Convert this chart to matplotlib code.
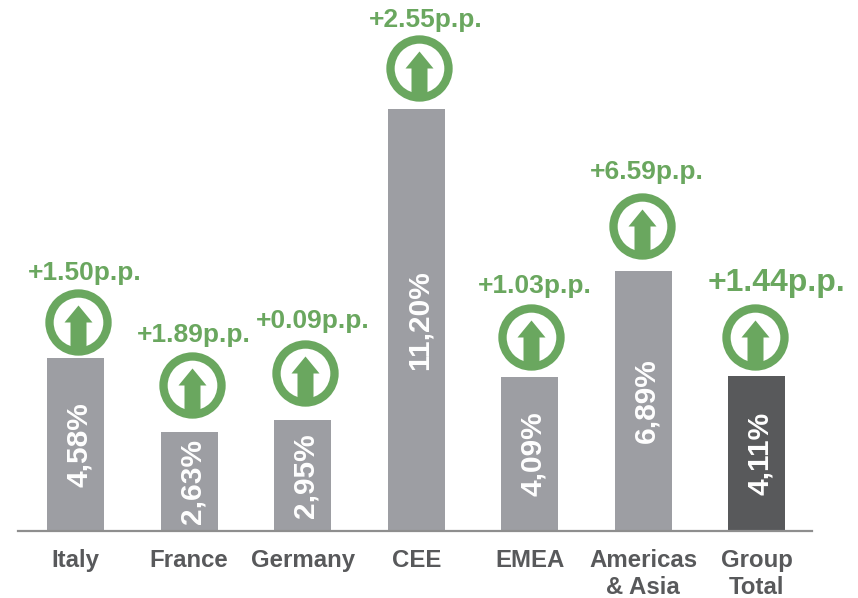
import numpy as np
import matplotlib
matplotlib.use('Agg')
import matplotlib.pyplot as plt
from matplotlib.path import Path

plt.rcParams['font.family'] = ['Liberation Sans', 'DejaVu Sans']

regions = ['Italy', 'France', 'Germany', 'CEE', 'EMEA', 'Americas\n& Asia', 'Group\nTotal']
share = [4.58, 2.63, 2.95, 11.20, 4.09, 6.89, 4.11]
share_labels = ['4,58%', '2,63%', '2,95%', '11,20%', '4,09%', '6,89%', '4,11%']
change_labels = ['+1.50p.p.', '+1.89p.p.', '+0.09p.p.', '+2.55p.p.', '+1.03p.p.', '+6.59p.p.', '+1.44p.p.']

GREY = '#9d9ea3'
DARK = '#58595b'
GREEN = '#6aa75f'

# badge centre relative to the bar top/centre, in pixels
badge_dx = [2, 3, 2, 3, 1, -1, -2]
badge_dy = [36, 47, 47, 41, 40, 45, 39]
# change label centre relative to the bar top/centre, in pixels
label_dx = [9, 5, 10, 10, 5, 4, 20]
label_dy = [85, 97, 99, 89, 91, 99, 93]
label_size = [19, 19, 19, 19, 19, 19, 23]

PX_PER_UNIT = 37.7
PX_PER_BAR = 113.5
W, H = 858, 598

fig = plt.figure(figsize=(W / 100, H / 100), dpi=100)
base_y = 531
ax = fig.add_axes([18 / W, (H - base_y) / H, (812 - 18) / W, base_y / H])
ax.set_xlim((18 - 75.7) / PX_PER_BAR, (812 - 75.7) / PX_PER_BAR)
ax.set_ylim(0, base_y / PX_PER_UNIT)

x = np.arange(len(regions))
colors = [GREY] * 6 + [DARK]
ax.bar(x, share, width=57 / PX_PER_BAR, color=colors)

for side in ['top', 'left', 'right']:
    ax.spines[side].set_visible(False)
ax.spines['bottom'].set_color('#8e8e8e')
ax.spines['bottom'].set_linewidth(1.6)
ax.set_yticks([])
ax.set_xticks(x)
ax.set_xticklabels(regions, fontsize=17.3, fontweight='bold', color=DARK, linespacing=1.2)
ax.tick_params(axis='x', length=0, pad=13)

# up arrow, in pixels around the ring centre
arrow = Path([(-8, -27), (-8, 0), (-14, 0), (0, 17), (14, 0), (8, 0), (8, -27), (-8, -27)], closed=True)
arrow_size = (54 * 0.72) ** 2
ring_size = (58 * 0.72) ** 2

for i, v in enumerate(share):
    # rotated value, nudged right so the digits sit centred in the bar
    ax.text(i + 3 / PX_PER_BAR, v / 2, share_labels[i], rotation=90, ha='center', va='center',
            color='white', fontsize=21.5, fontweight='bold')
    bx = i + badge_dx[i] / PX_PER_BAR
    by = v + badge_dy[i] / PX_PER_UNIT
    ax.scatter([bx], [by], s=ring_size, facecolor='white', edgecolor=GREEN,
               linewidth=6, zorder=3, clip_on=False)
    ax.scatter([bx], [by], s=arrow_size, marker=arrow, color=GREEN, linewidth=0,
               zorder=4, clip_on=False)
    ax.text(i + label_dx[i] / PX_PER_BAR, v + label_dy[i] / PX_PER_UNIT, change_labels[i],
            ha='center', va='center', color=GREEN, fontsize=label_size[i], fontweight='bold')

fig.savefig('out.png', dpi=100)
